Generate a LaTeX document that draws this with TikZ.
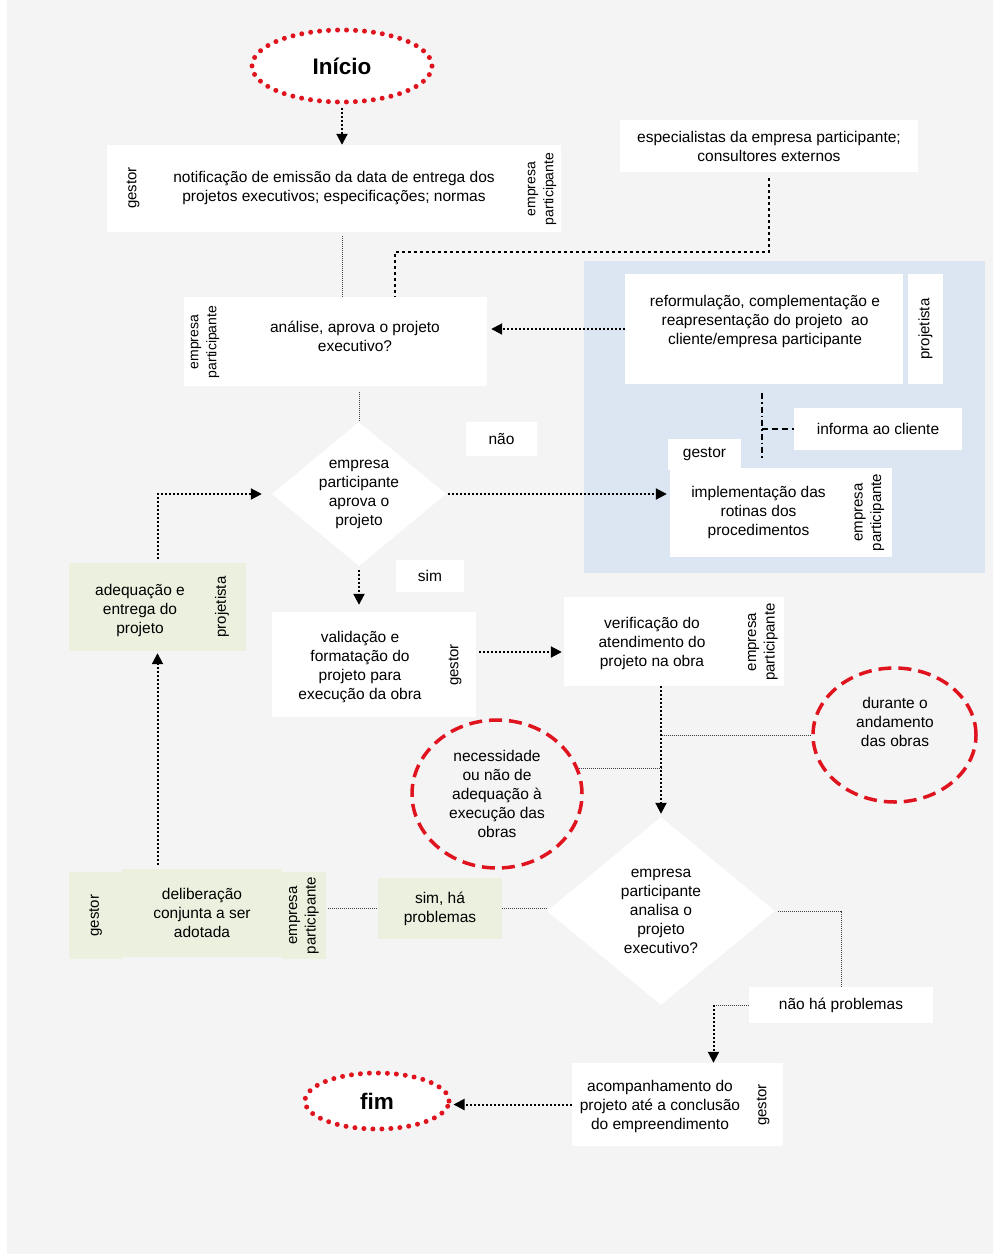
\documentclass[tikz,border=0pt]{standalone}
\usepackage{fontspec}
\setmainfont{Liberation Sans}
\usetikzlibrary{shapes.geometric,arrows.meta}
\definecolor{bggray}{HTML}{F4F4F4}
\definecolor{bluefill}{HTML}{DCE6F2}
\definecolor{greenfill}{HTML}{EBF1DE}
\definecolor{redline}{HTML}{E0141E}

\begin{document}
\begin{tikzpicture}[x=1pt,y=-1pt,
  txt/.style={align=center,font=\fontsize{15.5}{19}\selectfont},
  box/.style={txt,fill=white,inner sep=0pt},
  side/.style={align=center,rotate=90,inner sep=0pt,font=\fontsize{15}{18.5}\selectfont},
  sidesmall/.style={side,font=\fontsize{14}{18}\selectfont},
  arrow/.style={line width=2pt,dash pattern=on 2pt off 2pt,-{Triangle[length=11pt,width=11pt]}},
  bigdots/.style={line width=2.5pt,dash pattern=on 2.5pt off 3.5pt},
  thindot/.style={line width=1pt,dash pattern=on 1pt off 1pt,black!75},
  dotring/.style={ellipse,draw=redline,fill=white,line width=5pt,dash pattern=on 0pt off 9pt,line cap=round,inner sep=0pt,font=\bfseries\fontsize{22.5}{26}\selectfont},
  dashring/.style={ellipse,draw=redline,line width=3.5pt,dash pattern=on 13pt off 7pt,inner sep=0pt}]
\useasboundingbox (0,0) rectangle (1000,1258);
\fill[white] (0,0) rectangle (1000,1258);
\fill[bggray] (7,0) rectangle (993,1254);
\fill[bluefill] (584,261) rectangle (985,573);

% top
\node[dotring,minimum width=180pt,minimum height=72pt] (inicio) at (342,66) {Início};
\node[box,minimum width=454pt,minimum height=87pt] (notif) at (334,188.5) {notificação de emissão da data de entrega dos\\projetos executivos; especificações; normas};
\node[side] (notifg) at (133,188) {gestor};
\node[sidesmall] (notifep) at (542,189) {empresa\\participante};
\node[box,minimum width=298pt,minimum height=52pt] (espec) at (769,146) {especialistas da empresa participante;\\consultores externos};

\node[box,minimum width=303pt,minimum height=89pt] (analise) at (335.5,341.5) {};
\node[txt] (analisetxt) at (355,336) {análise, aprova o projeto\\executivo?};
\node[sidesmall] (analiseep) at (205,342) {empresa\\participante};

\node[diamond,fill=white,inner sep=0pt,aspect=1.2,minimum width=174pt,minimum height=144pt,txt] (aprova) at (359,494) {empresa\\participante\\aprova o\\projeto};
\node[box,minimum width=71pt,minimum height=34pt] (nao) at (501.5,439) {não};

% blue block
\node[box,minimum width=278pt,minimum height=110pt] (reform) at (764,329) {};
\node[txt] (reformtxt) at (765,321) {reformulação, complementação e\\reapresentação do projeto\ \ ao\\cliente/empresa participante};
\node[side,fill=white,minimum width=110pt,minimum height=35pt] (reformp) at (925.5,329) {projetista};
\node[box,minimum width=168pt,minimum height=42pt] (informa) at (878,429) {informa ao cliente};
\node[box,minimum width=73pt,minimum height=31pt] (implg) at (704.5,454) {gestor};
\node[box,minimum width=177pt,minimum height=89pt] (impl) at (758.5,512.5) {implementação das\\rotinas dos\\procedimentos};
\node[side,fill=white,minimum width=89pt,minimum height=45pt] (implep) at (869.5,512.5) {empresa\\participante};

% middle
\node[box,minimum width=68pt,minimum height=32pt] (sim) at (430,576) {sim};
\node[box,minimum width=204pt,minimum height=105pt] (valid) at (374,664.5) {};
\node[txt] (validtxt) at (360,667) {validação e\\formatação do\\projeto para\\execução da obra};
\node[side] (validg) at (455,665) {gestor};
\node[box,minimum width=220pt,minimum height=89pt] (verif) at (674,641.5) {};
\node[txt] (veriftxt) at (652,643) {verificação do\\atendimento do\\projeto na obra};
\node[side] (verifep) at (763,642) {empresa\\participante};
\node[box,fill=greenfill,minimum width=177pt,minimum height=88pt] (adeq) at (157.5,607) {};
\node[txt] (adeqtxt) at (140,610) {adequação e\\entrega do\\projeto};
\node[side] (adeqp) at (222,607) {projetista};

\node[dashring,minimum width=163pt,minimum height=134pt] (durante) at (894.5,735) {};
\node[txt] (durantetxt) at (895,722) {durante o\\andamento\\das obras};
\node[dashring,minimum width=170pt,minimum height=148pt,txt] (necess) at (497,794) {necessidade\\ou não de\\adequação à\\execução das\\obras};

\node[diamond,fill=white,inner sep=0pt,aspect=1.2,minimum width=228pt,minimum height=188pt,txt] (analisa) at (661,911) {empresa\\participante\\analisa o\\projeto\\executivo?};

% bottom
\node[side,fill=greenfill,minimum width=87pt,minimum height=53pt] (delibg) at (95.5,915.5) {gestor};
\node[box,fill=greenfill,minimum width=160pt,minimum height=88pt] (delib) at (202,913) {deliberação\\conjunta a ser\\adotada};
\node[side,fill=greenfill,minimum width=87pt,minimum height=44pt] (delibep) at (304,915.5) {empresa\\participante};
\node[box,fill=greenfill,minimum width=124pt,minimum height=61pt] (simha) at (440,908.5) {sim, há\\problemas};
\node[box,minimum width=184pt,minimum height=36pt] (naoha) at (841,1005) {não há problemas};
\node[box,minimum width=211pt,minimum height=83pt] (acomp) at (677.5,1104.5) {};
\node[txt] (acomptxt) at (660,1106) {acompanhamento do\\projeto até a conclusão\\do empreendimento};
\node[side] (acompg) at (763,1105) {gestor};
\node[dotring,minimum width=144pt,minimum height=56pt] (fim) at (377,1101) {fim};

% connectors
\draw[arrow,shorten <=3pt] (inicio.south) -- (inicio.south |- notif.north);
\draw[thindot,shorten <=4pt] (inicio.south |- notif.south) -- (inicio.south |- analise.north);
\coordinate (espturn) at (395,252);
\draw[bigdots,shorten <=6pt] (espec.south) |- (espturn) -- (espturn |- analise.north);
\draw[arrow,shorten >=4pt] (reform.west) -- (reform.west -| analise.east);
\draw[thindot,shorten <=6pt] (analise.south -| aprova.north) -- (aprova.north);

\coordinate (ddtop) at (762,393);
\coordinate (ddbot) at (762,460);
\draw[line width=1.3pt,dash pattern=on 6pt off 3pt on 1.5pt off 3pt] (ddtop) -- (ddbot);
\draw[line width=1.3pt,dash pattern=on 6pt off 4pt] (ddtop |- informa.west) -- (informa.west);

\draw[arrow,shorten <=2pt,shorten >=3pt] (aprova.east) -- (aprova.east -| impl.west);
\draw[arrow,shorten <=4pt,shorten >=10pt] (adeq.north) |- (aprova.west);
\draw[arrow,shorten <=4pt,shorten >=7pt] (aprova.south) -- (aprova.south |- valid.north);
\path ([yshift=12.5pt]valid.east) coordinate (validout);
\draw[arrow,shorten <=3pt,shorten >=2pt] (validout) -- (validout -| verif.west);

\draw[thindot] (durante.west) -- (durante.west -| analisa.north);
\draw[thindot] (necess.17) -- (necess.17 -| analisa.north);
\draw[arrow,shorten >=3pt] (verif.south -| analisa.north) -- (analisa.north);

\draw[arrow,shorten <=4pt,shorten >=2pt] (delib.north -| adeq.south) -- (adeq.south);
\draw[thindot,shorten <=2pt] (delibep.south |- simha.west) -- (simha.west);
\draw[thindot] (simha.east) -- (simha.east -| analisa.west);
\draw[thindot,shorten <=3pt] (analisa.east) -| (naoha.north);
\path (naoha.west -| acomp.north) ++(36,0) coordinate (bend);
\draw[thindot] (naoha.west) -- (bend);
\draw[arrow] (bend) -- (bend |- acomp.north);
\draw[arrow,shorten >=2pt] (acomp.west) -- (acomp.west -| fim.east);

\end{tikzpicture}
\end{document}
